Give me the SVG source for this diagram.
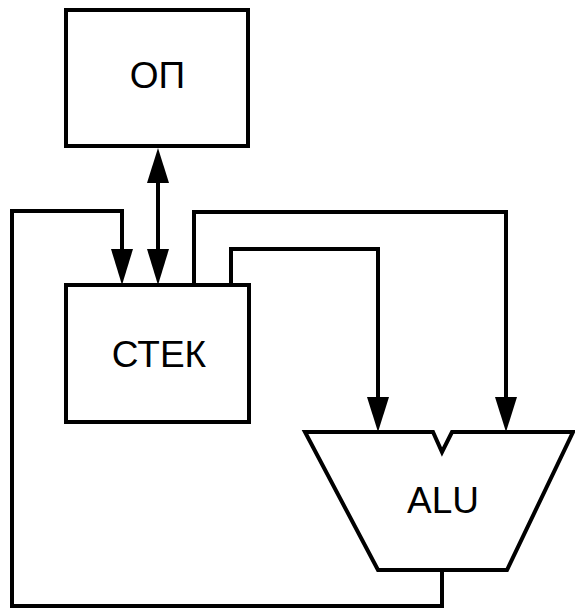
<svg xmlns="http://www.w3.org/2000/svg" width="575" height="609" viewBox="0 0 575 609">
<style>
.box{fill:#fff;stroke:#000;stroke-width:4;stroke-linejoin:miter}
.w{fill:none;stroke:#000;stroke-width:4;stroke-linejoin:miter}
.t{font-family:"Liberation Sans",Arial,sans-serif;font-size:37px;fill:#000;text-anchor:middle}
.ah{fill:#000;stroke:none}
</style>
<rect width="575" height="609" fill="#fff"/>
<g id="op">
<rect class="box" x="66" y="10" width="182" height="136"/>
<text class="t" x="157.5" y="88">ОП</text>
</g>
<g id="stack">
<rect class="box" x="66" y="285" width="183" height="137"/>
<text class="t" x="159" y="367">СТЕК</text>
</g>
<g id="alu">
<path class="box" d="M305,432 L433,432 L442,452 L452,432 L573,432 L507,570 L378,570 Z"/>
<text class="t" x="443" y="513">ALU</text>
</g>
<g id="connectors">
<path class="w" d="M158,180 L158,252"/>
<polygon class="ah" points="158,148 147,183 169,183"/>
<polygon class="ah" points="158,285 147,249 169,249"/>
<path class="w" d="M442,570 L442,606 L12,606 L12,211 L122,211 L122,252"/>
<polygon class="ah" points="122,285 111,249 133,249"/>
<path class="w" d="M194,285 L194,212 L506,212 L506,400"/>
<polygon class="ah" points="506,432 495,397 517,397"/>
<path class="w" d="M231,285 L231,249 L378,249 L378,400"/>
<polygon class="ah" points="378,432 367,397 389,397"/>
</g>
</svg>
